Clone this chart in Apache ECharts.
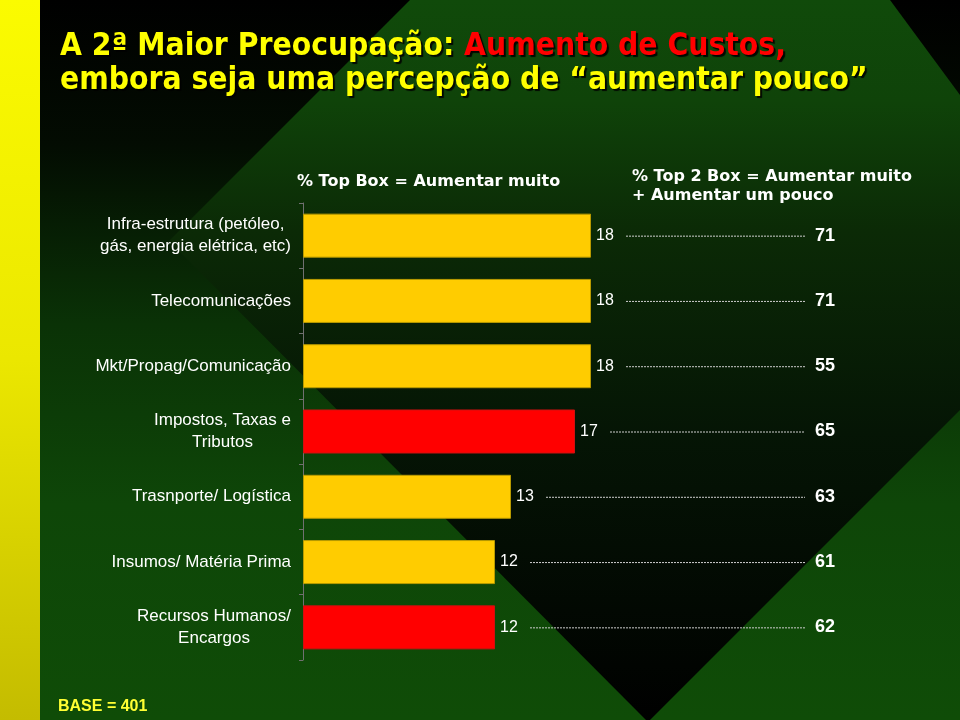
<!DOCTYPE html>
<html>
<head>
<meta charset="utf-8">
<script src="https://cdn.jsdelivr.net/npm/echarts@6/dist/echarts.min.js"></script>
<style>html,body{margin:0;padding:0;background:#000;}#chart{width:960px;height:720px;}</style>
</head>
<body>
<div id="chart"></div>
<script>
// ---- data ----
var categories = [
  'Infra-estrutura (petóleo,\ngás, energia elétrica, etc)',
  'Telecomunicações',
  'Mkt/Propag/Comunicação',
  'Impostos, Taxas e\nTributos',
  'Trasnporte/ Logística',
  'Insumos/ Matéria Prima',
  'Recursos Humanos/\nEncargos'
];
var topBox = [18, 18, 18, 17, 13, 12, 12];
var top2Box = [71, 71, 55, 65, 63, 61, 62];
var highlight = [false, false, false, true, false, false, true];

var YELLOW = '#ffcc00', RED = '#ff0000';
var TITLE_FONT = 'DejaVu Sans Condensed';
var HEAD_FONT = 'DejaVu Sans';
var LABEL_FONT = 'Liberation Sans';

var chart = echarts.init(document.getElementById('chart'), null, {renderer: 'canvas'});

var barData = topBox.map(function (v, i) {
  return {
    value: v,
    itemStyle: {
      color: highlight[i] ? RED : YELLOW,
      borderColor: highlight[i] ? '#d01010' : '#b89a00',
      borderWidth: 1
    }
  };
});
var leaderData = topBox.map(function (v, i) { return [v, i]; });

var titleRich = {
  color: '#ffff00', fontFamily: TITLE_FONT, fontWeight: 'bold', fontSize: 31.5, lineHeight: 34,
  textShadowColor: 'rgba(0,0,0,0.9)', textShadowOffsetX: 2, textShadowOffsetY: 2, textShadowBlur: 1
};

var option = {
  backgroundColor: new echarts.graphic.LinearGradient(0, 0, 0, 1, [
    {offset: 0, color: '#000000'},
    {offset: 0.2, color: '#030c02'},
    {offset: 0.45, color: '#0a3206'},
    {offset: 0.7, color: '#0e4608'},
    {offset: 1, color: '#0f4c07'}
  ]),
  animation: false,
  graphic: [
    {
      type: 'polygon', z: -10, silent: true,
      shape: {points: [[410, 0], [890, 0], [960, 95], [960, 410], [648, 722], [169, 241]]},
      style: {
        fill: new echarts.graphic.LinearGradient(0, 0, 0, 1, [
          {offset: 0, color: '#104a0a'},
          {offset: 0.14, color: '#0f4309'},
          {offset: 0.32, color: '#0b2a06'},
          {offset: 0.6, color: '#051505'},
          {offset: 1, color: '#000000'}
        ])
      }
    },
    {
      type: 'rect', z: -10, silent: true,
      shape: {x: 0, y: 0, width: 40, height: 720},
      style: {
        fill: new echarts.graphic.LinearGradient(0, 0, 0, 1, [
          {offset: 0, color: '#fbfb00'},
          {offset: 0.5, color: '#ebe700'},
          {offset: 1, color: '#c4bc00'}
        ])
      }
    }
  ],
  title: [
    {
      left: 60, top: 30, padding: 0,
      text: '{y|A 2ª Maior Preocupação: }{r|Aumento de Custos,}\n{y|embora seja uma percepção de “aumentar pouco”}',
      textStyle: {
        rich: {
          y: titleRich,
          r: Object.assign({}, titleRich, {color: '#ff0000'})
        }
      }
    },
    {
      left: 297, top: 173, padding: 0,
      text: '% Top Box = Aumentar muito',
      textStyle: {color: '#ffffff', fontFamily: HEAD_FONT, fontWeight: 'bold', fontSize: 16, lineHeight: 18}
    },
    {
      left: 632, top: 168, padding: 0,
      text: '% Top 2 Box = Aumentar muito\n+ Aumentar um pouco',
      textStyle: {color: '#ffffff', fontFamily: HEAD_FONT, fontWeight: 'bold', fontSize: 16, lineHeight: 18.5}
    },
    {
      left: 58, top: 699, padding: 0,
      text: 'BASE = 401',
      textStyle: {color: '#ffff33', fontFamily: LABEL_FONT, fontWeight: 'bold', fontSize: 16}
    }
  ],
  grid: {left: 303, right: 155, top: 203, height: 457, containLabel: false},
  xAxis: {type: 'value', min: 0, max: 31.375, show: false},
  yAxis: [
    {
      type: 'category', inverse: true, data: categories,
      axisLine: {show: true, lineStyle: {color: '#707070', width: 1}},
      axisTick: {show: true, length: 4, lineStyle: {color: '#707070'}},
      axisLabel: {
        margin: 12, color: '#ffffff', fontFamily: LABEL_FONT, fontSize: 17, lineHeight: 22,
        formatter: function (v) {
          var lines = v.split('\n');
          if (lines.length === 1) return v;
          return lines.map(function (l) { return '{c|' + l + '}'; }).join('\n');
        },
        rich: {c: {align: 'center', color: '#ffffff', fontFamily: LABEL_FONT, fontSize: 17, lineHeight: 22}}
      },
      splitLine: {show: false}
    },
    {
      type: 'category', inverse: true, position: 'right',
      data: top2Box.map(String),
      axisLine: {show: false}, axisTick: {show: false}, splitLine: {show: false},
      axisLabel: {margin: 10, color: '#ffffff', fontFamily: LABEL_FONT, fontWeight: 'bold', fontSize: 18}
    }
  ],
  series: [
    {
      type: 'bar', yAxisIndex: 0, data: barData, barWidth: 44,
      label: {show: true, position: 'right', distance: 5, color: '#ffffff', fontFamily: LABEL_FONT, fontSize: 16}
    },
    {
      type: 'custom', yAxisIndex: 0, data: leaderData, encode: {x: 0, y: 1}, silent: true,
      renderItem: function (params, api) {
        var p = api.coord([api.value(0), api.value(1)]);
        var xEnd = params.coordSys.x + params.coordSys.width;
        return {
          type: 'line',
          shape: {x1: p[0] + 35, y1: p[1] + 0.5, x2: xEnd, y2: p[1] + 0.5},
          style: {stroke: '#cfcfcf', lineWidth: 1, lineDash: [2, 1]}
        };
      }
    }
  ]
};
chart.setOption(option);
</script>
</body>
</html>
